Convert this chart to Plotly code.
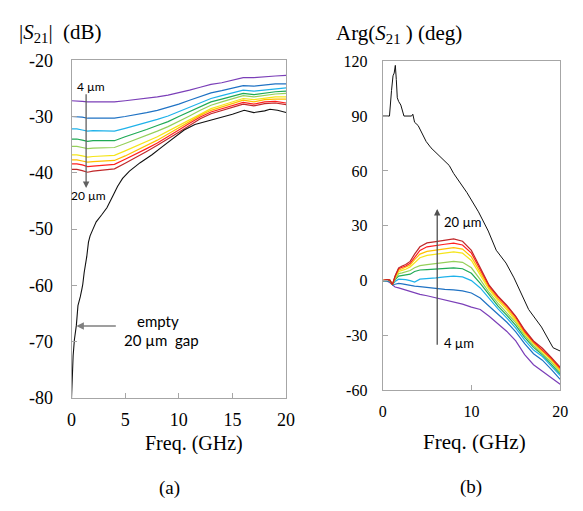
import plotly.graph_objects as go

# page body keeps an 8 px margin, so the figure is drawn 16 px smaller
PAGE_W, PAGE_H = 583, 511
OFF = 8
W, H = PAGE_W - 2 * OFF, PAGE_H - 2 * OFF

# ---------------- data: panel (a) |S21| (dB) ----------------
FREQ_A = [0, 0.5, 1, 1.5, 2, 3, 4, 5, 6, 7, 8, 9, 10, 11, 12, 13, 14, 15, 16, 17, 18, 19, 20]
MAG_4 = [-27.2, -27.2, -27.3, -27.4, -27.4, -27.4, -27.4, -27.2, -27.0, -26.8, -26.5, -26.2, -25.8, -25.3, -24.8, -24.3, -24.0, -23.6, -23.1, -23.1, -22.9, -22.8, -22.7]
MAG_6 = [-30.0, -30.0, -30.1, -30.3, -30.3, -30.3, -30.3, -30.0, -29.7, -29.3, -28.9, -28.4, -27.8, -27.1, -26.4, -25.8, -25.4, -25.0, -24.5, -24.6, -24.4, -24.2, -24.2]
MAG_8 = [-32.2, -32.2, -32.4, -32.6, -32.5, -32.6, -32.6, -32.1, -31.6, -31.1, -30.5, -29.9, -29.1, -28.3, -27.5, -26.8, -26.3, -25.8, -25.3, -25.5, -25.3, -25.0, -24.9]
MAG_10 = [-34.0, -34.0, -34.2, -34.4, -34.3, -34.3, -34.3, -33.6, -33.0, -32.3, -31.6, -30.9, -30.0, -29.1, -28.2, -27.4, -26.9, -26.4, -25.9, -26.1, -25.8, -25.6, -25.5]
MAG_12 = [-35.3, -35.3, -35.5, -35.7, -35.6, -35.6, -35.5, -34.8, -34.1, -33.4, -32.6, -31.8, -30.9, -29.9, -28.9, -28.0, -27.4, -26.9, -26.3, -26.5, -26.2, -26.0, -25.9]
MAG_14 = [-36.8, -36.8, -37.0, -37.2, -37.1, -37.0, -36.9, -36.1, -35.3, -34.5, -33.6, -32.6, -31.6, -30.5, -29.5, -28.6, -28.0, -27.4, -26.8, -27.0, -26.7, -26.5, -26.5]
MAG_16 = [-37.7, -37.7, -37.9, -38.1, -38.0, -37.9, -37.8, -37.0, -36.1, -35.2, -34.2, -33.1, -32.0, -30.9, -29.8, -28.9, -28.3, -27.7, -27.1, -27.4, -27.0, -26.9, -26.9]
MAG_18 = [-38.4, -38.4, -38.6, -38.9, -38.8, -38.6, -38.5, -37.6, -36.7, -35.7, -34.7, -33.6, -32.4, -31.2, -30.1, -29.2, -28.6, -28.1, -27.5, -27.8, -27.4, -27.3, -27.6]
MAG_20 = [-39.4, -39.4, -39.6, -39.9, -39.7, -39.5, -39.3, -38.3, -37.3, -36.2, -35.1, -34.0, -32.8, -31.6, -30.4, -29.5, -28.9, -28.4, -27.8, -28.1, -27.7, -27.6, -27.9]

FREQ_A_EMPTY = [0, 0.05, 0.1, 0.15, 0.27, 0.45, 0.6, 0.65, 0.82, 0.97, 1.05, 1.18, 1.3, 1.42, 1.58, 1.73, 2.0, 2.3, 2.8, 3.3, 3.85, 4.3, 4.76, 5.4, 6.4, 7.5, 8.5, 9.3, 10.5, 11.5, 12.3, 13, 14, 15, 16.1, 17, 18, 18.5, 19.2, 20]
MAG_EMPTY = [-80, -77.6, -74, -72.5, -69.6, -67.1, -63.6, -63.3, -62, -60.6, -59.8, -57.7, -56.5, -54.9, -52.3, -51.2, -50.0, -48.7, -47.5, -46.2, -44.1, -42.4, -41.0, -39.7, -38.2, -36.8, -35.3, -34.1, -32.4, -31.4, -31.0, -30.6, -30.2, -29.6, -28.9, -29.3, -29.0, -28.7, -28.9, -29.3]

MAG_TICKS = [-80, -70, -60, -50, -40, -30, -20]
MAG_TICK_TEXT = ["-80", "-70", "-60", "-50", "-40", "-30", "-20"]
FREQ_A_TICKS = [0, 5, 10, 15, 20]

# ---------------- data: panel (b) Arg(S21) (deg) ----------------
FREQ_B = [0, 0.5, 0.8, 1.1, 1.4, 1.8, 2.2, 2.6, 3.1, 3.6, 4.2, 5, 6, 7, 8, 9, 10, 11, 12, 13, 14, 15, 16, 17, 18, 19, 20]
ARG_4 = [0, -0.3, -1.0, -2.5, -3.5, -4.0, -4.6, -5.3, -6.2, -6.8, -7.5, -8.3, -9.5, -10.5, -11.6, -12.9, -14.5, -15.8, -19.5, -23.5, -27.8, -33.0, -40.5, -46.0, -49.5, -53.0, -56.7]
ARG_6 = [0, 0, -0.5, -2.2, -2.0, -1.5, -1.8, -2.2, -2.8, -3.0, -3.3, -3.8, -4.5, -4.8, -5.1, -5.6, -6.8, -9.5, -14.0, -18.5, -22.8, -28.0, -34.5, -40.0, -43.5, -48.5, -54.0]
ARG_8 = [0, 0.2, 0, -2.2, -0.5, 0.8, 0.8, 0.5, 0, -0.8, 0.8, 1.0, 1.5, 2.0, 2.5, 2.0, 0, -4.0, -10.0, -15.5, -20.5, -26.0, -32.5, -38.0, -41.5, -46.5, -52.0]
ARG_10 = [0, 0.3, 0.1, -2.2, 0.5, 2.5, 2.8, 3.0, 3.5, 5.0, 5.8, 6.0, 6.3, 6.6, 7.0, 6.5, 4.0, -1.5, -8.0, -14.0, -19.0, -24.5, -31.0, -36.5, -40.5, -45.5, -51.0]
ARG_12 = [0, 0.4, 0.2, -2.2, 1.0, 3.8, 4.2, 4.6, 5.5, 7.0, 8.2, 8.7, 9.3, 9.9, 10.5, 10.0, 7.0, 0.5, -6.5, -12.5, -17.5, -23.0, -30.0, -35.5, -40.0, -44.5, -50.0]
ARG_14 = [0, 0.4, 0.2, -2.2, 1.4, 5.0, 5.6, 6.2, 7.5, 10.0, 12.5, 13.8, 14.5, 15.0, 15.7, 15.0, 11.0, 3.0, -5.0, -11.0, -16.0, -22.0, -29.0, -34.5, -39.0, -43.5, -49.3]
ARG_16 = [0, 0.5, 0.3, -2.2, 1.8, 5.8, 6.5, 7.2, 8.5, 11.5, 14.5, 16.0, 16.8, 17.4, 18.0, 17.2, 13.0, 4.5, -4.0, -10.0, -15.0, -21.0, -28.5, -34.0, -38.5, -43.0, -48.8]
ARG_18 = [0, 0.5, 0.3, -2.2, 2.2, 6.5, 7.3, 8.0, 9.5, 13.0, 16.5, 18.5, 19.4, 19.9, 20.5, 19.5, 15.0, 6.0, -3.0, -9.0, -14.0, -20.0, -27.8, -33.5, -37.8, -42.5, -48.0]
ARG_20 = [0, 0.5, 0.3, -2.2, 2.5, 7.0, 8.0, 8.8, 10.5, 14.5, 18.5, 20.6, 21.3, 22.0, 22.8, 21.5, 16.5, 7.0, -2.5, -8.5, -13.5, -19.5, -27.0, -33.0, -37.0, -42.0, -47.3]

FREQ_B_EMPTY = [0, 0.77, 1.0, 1.17, 1.3, 1.43, 1.54, 1.65, 1.8, 2.05, 2.4, 2.8, 3.26, 3.4, 3.6, 4.0, 4.36, 4.9, 5.45, 6.2, 6.9, 7.5, 8.0, 8.76, 9.5, 10.8, 11.9, 12.8, 13.9, 14.8, 15.5, 16.45, 17.9, 19.2, 20]
ARG_EMPTY = [90, 90, 104, 112, 113.5, 117.7, 110, 100, 98, 96, 90, 90, 90, 91, 86.6, 84.8, 81.3, 76.1, 72.6, 69.1, 66, 63, 58.6, 53.4, 48.1, 37.6, 27.1, 16.6, 9.6, 1.5, -6.1, -15.8, -25.4, -36.7, -38.5]

ARG_TICKS = [-60, -30, 0, 30, 60, 90, 120]
ARG_TICK_TEXT = ["-60", "-30", "0", "30", "60", "90", "120"]
FREQ_B_TICKS = [0, 10, 20]

GAPS = ["4 µm", "6 µm", "8 µm", "10 µm", "12 µm", "14 µm", "16 µm", "18 µm", "20 µm"]
MAG_SERIES = [MAG_4, MAG_6, MAG_8, MAG_10, MAG_12, MAG_14, MAG_16, MAG_18, MAG_20]
ARG_SERIES = [ARG_4, ARG_6, ARG_8, ARG_10, ARG_12, ARG_14, ARG_16, ARG_18, ARG_20]

COLORS = ["#7b3fb8", "#1f72c4", "#1fb2ea", "#1faa55", "#95d05a", "#f5e51a", "#ffc000", "#ff2020", "#c0282a"]

SERIF = '"Liberation Serif", "Times New Roman", Times, serif'
SANS = 'Lato, "Open Sans", sans-serif'
FRAME = "#a6a6a6"

fig = go.Figure()

for name, ys, c in zip(GAPS, MAG_SERIES, COLORS):
    fig.add_trace(go.Scatter(x=FREQ_A, y=ys, mode="lines", name=name,
                             line=dict(color=c, width=1.2), xaxis="x", yaxis="y"))
fig.add_trace(go.Scatter(x=FREQ_A_EMPTY, y=MAG_EMPTY, mode="lines", name="empty",
                         line=dict(color="#111111", width=1.1), xaxis="x", yaxis="y"))

for name, ys, c in zip(GAPS, ARG_SERIES, COLORS):
    fig.add_trace(go.Scatter(x=FREQ_B, y=ys, mode="lines", name=name,
                             line=dict(color=c, width=1.2), xaxis="x2", yaxis="y2"))
fig.add_trace(go.Scatter(x=FREQ_B_EMPTY, y=ARG_EMPTY, mode="lines", name="empty",
                         line=dict(color="#111111", width=1.0), xaxis="x2", yaxis="y2"))


def fx(px):
    """page pixel x -> paper fraction"""
    return (px - OFF) / W


def fy(py):
    """page pixel y -> paper fraction"""
    return 1 - (py - OFF) / H


axis_common = dict(showgrid=False, zeroline=False, showline=True, mirror=True,
                   linecolor=FRAME, linewidth=1, ticks="inside", ticklen=5,
                   tickcolor=FRAME, fixedrange=True)

fig.update_layout(
    width=W, height=H, autosize=False,
    margin=dict(l=0, r=0, t=0, b=0, pad=0),
    paper_bgcolor="white", plot_bgcolor="white",
    showlegend=False,
    xaxis=dict(domain=[fx(68), fx(288)], range=[0, 20], tickvals=FREQ_A_TICKS,
               anchor="y", tickfont=dict(family=SERIF, size=18, color="#000"),
               ticklabelstandoff=5, **axis_common),
    yaxis=dict(domain=[fy(404), fy(52)], range=[-80, -20], tickvals=MAG_TICKS, ticktext=MAG_TICK_TEXT,
               anchor="x", tickfont=dict(family=SERIF, size=18, color="#000"),
               ticklabelstandoff=14, **axis_common),
    xaxis2=dict(domain=[fx(387), fx(569)], range=[0, 20], tickvals=FREQ_B_TICKS,
                anchor="y2", tickfont=dict(family=SERIF, size=16, color="#000"),
                ticklabelstandoff=6, **axis_common),
    yaxis2=dict(domain=[fy(396), fy(53)], range=[-60, 120], tickvals=ARG_TICKS, ticktext=ARG_TICK_TEXT,
                anchor="x2", tickfont=dict(family=SERIF, size=16, color="#000"),
                ticklabelstandoff=11, **axis_common),
)

ann = []
# titles
ann.append(dict(text="|<i>S</i><sub>21</sub>|  (dB)", x=fx(12), y=fy(24), xanchor="left", yanchor="middle",
                font=dict(family=SERIF, size=21, color="#000")))
ann.append(dict(text="Arg(<i>S</i><sub>21</sub> ) (deg)", x=fx(337), y=fy(25), xanchor="left", yanchor="middle",
                font=dict(family=SERIF, size=21, color="#000")))
ann.append(dict(text="Freq. (GHz)", x=fx(194), y=fy(451), xanchor="center", yanchor="middle", height=22,
                font=dict(family=SERIF, size=20, color="#000")))
ann.append(dict(text="Freq. (GHz)", x=fx(481), y=fy(450), xanchor="center", yanchor="middle", height=22,
                font=dict(family=SERIF, size=21, color="#000")))
ann.append(dict(text="(a)", x=fx(168), y=fy(498), xanchor="center", yanchor="middle",
                font=dict(family=SERIF, size=19, color="#000")))
ann.append(dict(text="(b)", x=fx(478), y=fy(497), xanchor="center", yanchor="middle",
                font=dict(family=SERIF, size=19, color="#000")))
for a in ann:
    a.update(xref="paper", yref="paper", showarrow=False)

# panel (a) labels and arrows
ann += [
    dict(text="4 µm", xref="x", yref="y", x=1.8, y=-24.6, showarrow=False,
         font=dict(family=SANS, size=12, color="#000")),
    dict(text="20 µm", xref="x", yref="y", x=1.55, y=-44.0, showarrow=False,
         font=dict(family=SANS, size=12, color="#000")),
    dict(text="", xref="x", yref="y", axref="x", ayref="y", x=1.36, y=-42.7, ax=1.36, ay=-25.8,
         showarrow=True, arrowhead=2, arrowsize=1, arrowwidth=1.3, arrowcolor="#606060"),
    dict(text="empty", xref="x", yref="y", x=8.1, y=-66.4, showarrow=False,
         font=dict(family=SANS, size=15, color="#000")),
    dict(text="20 µm  gap", xref="x", yref="y", x=8.4, y=-69.7, showarrow=False,
         font=dict(family=SANS, size=15, color="#000")),
    dict(text="", xref="x", yref="y", axref="x", ayref="y", x=0.45, y=-67.2, ax=4.27, ay=-67.2,
         showarrow=True, arrowhead=2, arrowsize=1, arrowwidth=1.5, arrowcolor="#808080"),
]
# panel (b) labels and arrow
ann += [
    dict(text="", xref="x2", yref="y2", axref="x2", ayref="y2", x=6.15, y=39.2, ax=6.15, ay=-35.9,
         showarrow=True, arrowhead=2, arrowsize=1, arrowwidth=1.3, arrowcolor="#505050"),
    dict(text="20 µm", xref="x2", yref="y2", x=6.7, y=31.8, xanchor="left", showarrow=False,
         font=dict(family=SANS, size=13, color="#000")),
    dict(text="4 µm", xref="x2", yref="y2", x=6.7, y=-34.3, xanchor="left", showarrow=False,
         font=dict(family=SANS, size=13, color="#000")),
]
fig.update_layout(annotations=ann)

fig.write_html("out.html", config={"displayModeBar": False})
